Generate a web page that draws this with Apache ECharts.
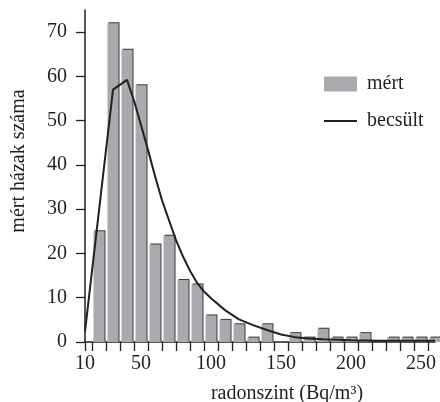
<!DOCTYPE html>
<html>
<head>
<meta charset="utf-8">
<script src="https://cdn.jsdelivr.net/npm/echarts@6/dist/echarts.min.js"></script>
<style>html,body{margin:0;padding:0;background:#fff;}#c{width:440px;height:402px;}</style>
</head>
<body>
<div id="c"></div>
<script>
// measured histogram: bin centres (Bq/m3) and counts
var binCenters = [20,30,40,50,60,70,80,90,100,110,120,130,140,150,160,170,180,190,200,210,220,230,240,250,260];
var measured   = [25,72,66,58,22,24,14,13,6,5,4,1,4,0,2,1,3,1,1,2,0,1,1,1,1];
// estimated curve
var estX = [10,30,40,45,50,55,60,65,70,75,80,85,90,95,100,110,120,130,140,150,160,170,180,190,200,210,220,230,240,250,260];
var estY = [2.4,57,59.2,54.5,49,43.4,37.5,32,27.5,23,19.3,16.1,13.4,11.4,9.9,7.2,5.1,3.8,2.7,1.7,1.1,0.8,0.6,0.5,0.4,0.35,0.3,0.3,0.3,0.3,0.3];
var xLabels = [10,50,100,150,200,250];
var xTicks = [10,15,25,35,45,55,65,75,85,95,105,115,125,135,145,155,165,175,185,195,205,215,225,235,245,255];
var yTicks = [0,10,20,30,40,50,60,70];

var ink = '#231f20';
var font = 'Liberation Serif';
var chart = echarts.init(document.getElementById('c'));
chart.setOption({
  animation: false,
  backgroundColor: '#fff',
  grid: {left: 85, right: 5, top: 10, bottom: 60, containLabel: false, outerBoundsMode: 'none'},
  legend: {
    orient: 'vertical', left: 323, top: 74, padding: 0,
    itemWidth: 33, itemHeight: 15, itemGap: 17,
    textStyle: {fontFamily: font, fontSize: 20, color: ink, padding: [0,0,0,5]},
    data: [{name: 'mért', icon: 'rect'}, {name: 'becsült'}]
  },
  xAxis: {
    type: 'value', min: 10, max: 260,
    name: 'radonszint (Bq/m³)', nameLocation: 'middle', nameGap: 42,
    nameTextStyle: {fontFamily: font, fontSize: 20, color: ink, padding: [0,0,0,54]},
    axisLine: {show: true, onZero: false, lineStyle: {color: ink, width: 1.5}},
    axisTick: {show: true, length: 9, customValues: xTicks, lineStyle: {color: ink, width: 1.3}},
    axisLabel: {customValues: xLabels, fontFamily: font, fontSize: 20, color: ink, margin: 12},
    splitLine: {show: false}
  },
  yAxis: {
    type: 'value', min: 0, max: 75,
    name: 'mért házak száma', nameLocation: 'middle', nameGap: 56,
    nameTextStyle: {fontFamily: font, fontSize: 20, color: ink, padding: [0,0,0,30]},
    axisLine: {show: true, lineStyle: {color: ink, width: 1.5}},
    axisTick: {show: true, length: 9, customValues: yTicks, lineStyle: {color: ink, width: 1.3}},
    axisLabel: {customValues: yTicks, fontFamily: font, fontSize: 20, color: ink, margin: 18},
    splitLine: {show: false}
  },
  series: [
    {
      name: 'mért', type: 'bar', clip: false, barWidth: 11,
      data: binCenters.map(function(x, i){ return [x, measured[i]]; }),
      itemStyle: {color: '#a9aaad', shadowColor: '#3a3a3a', shadowOffsetX: 1, shadowOffsetY: -1, shadowBlur: 0}
    },
    {
      name: 'becsült', type: 'line', symbol: 'none', clip: false,
      data: estX.map(function(x, i){ return [x, estY[i]]; }),
      lineStyle: {color: ink, width: 2},
      itemStyle: {color: 'rgba(0,0,0,0)'}
    }
  ]
});
</script>
</body>
</html>
